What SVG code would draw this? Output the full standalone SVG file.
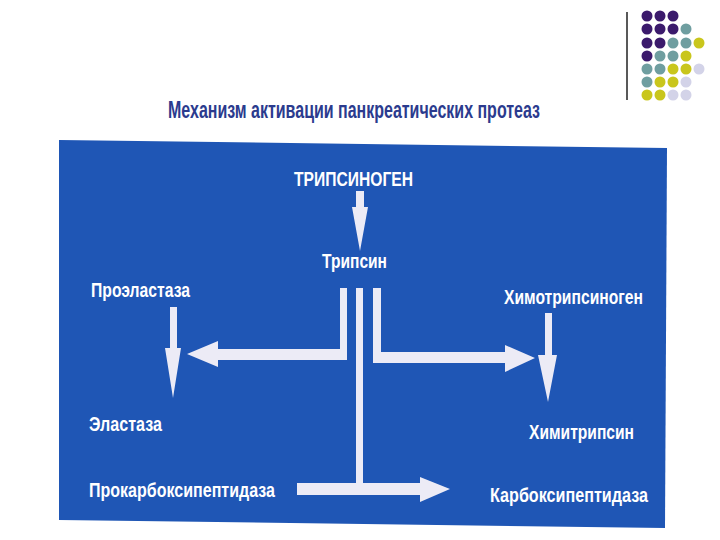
<svg xmlns="http://www.w3.org/2000/svg" width="720" height="540" viewBox="0 0 720 540">
<style>
.lbl{font-family:"Liberation Sans Narrow","Liberation Sans","DejaVu Sans",sans-serif;font-weight:bold;fill:#ffffff;font-size:21px}
.ttl{font-family:"Liberation Sans Narrow","Liberation Sans","DejaVu Sans",sans-serif;font-weight:bold;fill:#2b3b8e;font-size:23px}
.arr{fill:#ecebf6}
.p{fill:#3b1a6c}.t{fill:#6f9ea0}.y{fill:#c9c61c}.l{fill:#d3d3e8}
</style>
<rect width="720" height="540" fill="#ffffff"/>
<g id="decor">
<line x1="627" y1="12" x2="627" y2="100" stroke="#222" stroke-width="1.5"/>
<g>
<circle class="p" cx="647" cy="16" r="5.5"/><circle class="p" cx="660" cy="16" r="5.5"/><circle class="p" cx="673" cy="16" r="5.5"/>
<circle class="p" cx="647" cy="29" r="5.5"/><circle class="p" cx="660" cy="29" r="5.5"/><circle class="p" cx="673" cy="29" r="5.5"/><circle class="t" cx="686" cy="29" r="5.5"/>
<circle class="p" cx="647" cy="43" r="5.5"/><circle class="p" cx="660" cy="43" r="5.5"/><circle class="t" cx="673" cy="43" r="5.5"/><circle class="t" cx="686" cy="43" r="5.5"/><circle class="y" cx="699" cy="43" r="5.5"/>
<circle class="p" cx="647" cy="56" r="5.5"/><circle class="t" cx="660" cy="56" r="5.5"/><circle class="t" cx="673" cy="56" r="5.5"/><circle class="y" cx="686" cy="56" r="5.5"/>
<circle class="t" cx="647" cy="69" r="5.5"/><circle class="t" cx="660" cy="69" r="5.5"/><circle class="y" cx="673" cy="69" r="5.5"/><circle class="y" cx="686" cy="69" r="5.5"/><circle class="l" cx="699" cy="69" r="5.5"/>
<circle class="t" cx="647" cy="82" r="5.5"/><circle class="y" cx="660" cy="82" r="5.5"/><circle class="y" cx="673" cy="82" r="5.5"/><circle class="l" cx="686" cy="82" r="5.5"/>
<circle class="y" cx="647" cy="95" r="5.5"/><circle class="y" cx="660" cy="95" r="5.5"/><circle class="l" cx="673" cy="95" r="5.5"/><circle class="l" cx="686" cy="95" r="5.5"/>
</g>
</g>
<text id="title" class="ttl" x="168" y="118" textLength="372" lengthAdjust="spacingAndGlyphs">Механизм активации панкреатических протеаз</text>
<polygon id="panel" points="59,140 667,148 665,528 59,520" fill="#1f56b5"/>
<g id="connectors">
<polygon class="arr" points="356,191 364,191 364,207 368,207 360,251 352,207 356,207"/>
<polygon class="arr" points="340,288 347,288 347,360 218,360 218,367 187,354 218,341 218,349 340,349"/>
<polygon class="arr" points="373,288 381,288 381,352 505,352 505,345 535,358 505,372 505,363 373,363"/>
<polygon class="arr" points="356,288 363,288 363,483 420,483 420,477 450,489 420,502 420,495 297,495 297,483 356,483"/>
<polygon class="arr" points="170,307 177,307 177,348 181,348 173,398 165,348 170,348"/>
<polygon class="arr" points="545,313 552,313 552,355 557,355 548,402 538,355 545,355"/>
</g>
<g id="trypsinogen"><text class="lbl" x="294" y="186" font-size="23" textLength="119" lengthAdjust="spacingAndGlyphs">ТРИПСИНОГЕН</text></g>
<g id="trypsin"><text class="lbl" x="322" y="268" textLength="65" lengthAdjust="spacingAndGlyphs">Трипсин</text></g>
<g id="proelastase"><text class="lbl" x="91" y="297" textLength="99" lengthAdjust="spacingAndGlyphs">Проэластаза</text></g>
<g id="chymotrypsinogen"><text class="lbl" x="504" y="304" textLength="139" lengthAdjust="spacingAndGlyphs">Химотрипсиноген</text></g>
<g id="elastase"><text class="lbl" x="89" y="431" textLength="73" lengthAdjust="spacingAndGlyphs">Эластаза</text></g>
<g id="chymotrypsin"><text class="lbl" x="529" y="439" textLength="105" lengthAdjust="spacingAndGlyphs">Химитрипсин</text></g>
<g id="procarboxypeptidase"><text class="lbl" x="89" y="497" textLength="186" lengthAdjust="spacingAndGlyphs">Прокарбоксипептидаза</text></g>
<g id="carboxypeptidase"><text class="lbl" x="490" y="502" textLength="158" lengthAdjust="spacingAndGlyphs">Карбоксипептидаза</text></g>
</svg>
